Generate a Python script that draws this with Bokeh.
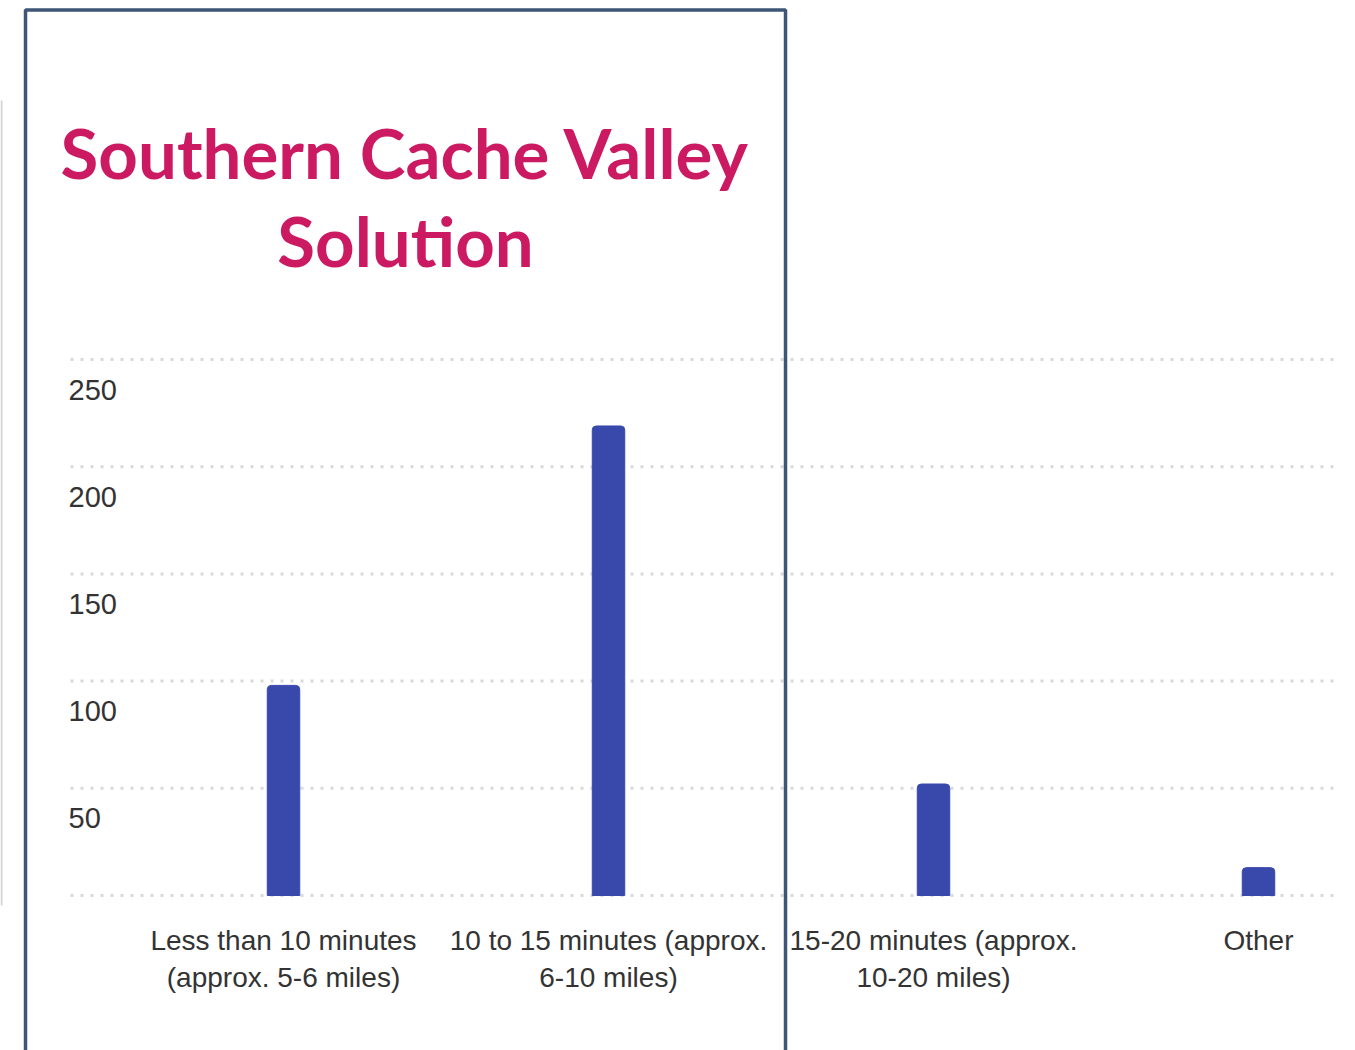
from bokeh.plotting import figure
from bokeh.models import Range1d
from bokeh.core.properties import value
from bokeh.embed import file_html
from bokeh.resources import INLINE

# ---- data ----
categories = ["Less than 10 minutes\n(approx. 5-6 miles)",
              "10 to 15 minutes (approx.\n6-10 miles)",
              "15-20 minutes (approx.\n10-20 miles)",
              "Other"]
counts = [98, 219, 52, 13]
y_ticks = [0, 50, 100, 150, 200, 250]
y_tick_labels = ["", "50", "100", "150", "200", "250"]
title_lines = ["Southern Cache Valley", "Solution"]

W, H = 1339, 1050
PX_PER_CAT = 325.0
X0_PX = 283.0          # x of first category centre
PX_PER_UNIT = 2.144
Y0_PX = 895.0          # y of value 0

xr = Range1d((0 - X0_PX) / PX_PER_CAT, (W - X0_PX) / PX_PER_CAT)
yr = Range1d(-(H - Y0_PX) / PX_PER_UNIT, Y0_PX / PX_PER_UNIT)

p = figure(width=W, height=H, x_range=xr, y_range=yr,
           output_backend="svg", toolbar_location=None,
           min_border=0, min_border_left=0, min_border_right=0,
           min_border_top=0, min_border_bottom=0)
p.extra_x_ranges = {"px": Range1d(0, W)}
p.extra_y_ranges = {"px": Range1d(H, 0)}
p.axis.visible = False
p.grid.visible = False
p.outline_line_color = None
p.background_fill_color = "white"
p.border_fill_color = "white"

label_font = value("Liberation Sans")
text_col = "#333333"

# faint left edge line
p.line(x=[1, 1], y=[100, 905], x_range_name="px", y_range_name="px",
       line_color="#d6d6d6", line_width=2)

# grid lines
p.segment(x0=[70] * len(y_ticks), x1=[1342] * len(y_ticks), y0=y_ticks, y1=y_ticks,
          x_range_name="px", line_color="#d9d9d9", line_width=3, line_dash="3 7")

# y tick labels (drawn below their grid lines)
p.text(x=[68] * len(y_ticks), y=y_ticks, text=y_tick_labels, x_range_name="px",
       y_offset=30, text_baseline="middle", text_align="left",
       text_font=label_font, text_font_size="29px", text_color=text_col)

# bars
xs = list(range(len(categories)))
p.vbar(x=xs, top=counts, bottom=0, width=0.1, fill_color="#3949AB",
       line_color="#3949AB", line_width=1, border_radius=(4, 4, 0, 0))

# category labels
p.text(x=xs, y=[0] * len(xs), text=categories, y_offset=29,
       text_baseline="top", text_align="center", text_line_height=1.22,
       text_font=label_font, text_font_size="28px", text_color=text_col)

# frame box
p.line(x=[25, 25, 785, 785], y=[1100, 9.5, 9.5, 1100], x_range_name="px", y_range_name="px",
       line_color="#3F5577", line_width=3.5)

# title
p.text(x=[405, 405], y=[152, 240], text=title_lines, x_range_name="px", y_range_name="px",
       text_align="center", text_baseline="alphabetic",
       text_font=value("Lato"), text_font_style="bold", text_font_size="69px",
       text_color="#CC1A62")

open("out.html", "w").write(file_html(p, INLINE))
